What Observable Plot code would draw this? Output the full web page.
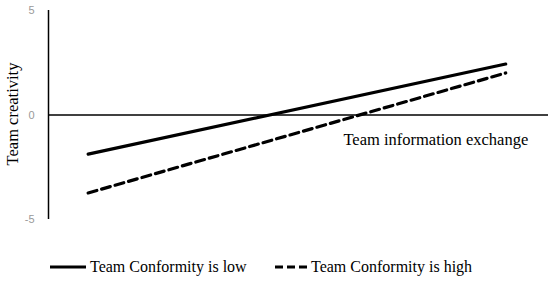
<!DOCTYPE html>
<html>
<head>
<meta charset="utf-8">
<script src="https://cdn.jsdelivr.net/npm/d3@7"></script>
<script src="https://cdn.jsdelivr.net/npm/@observablehq/plot@0.6"></script>
<style>
  body { margin: 0; background: #fff; }
  #chart { width: 550px; height: 283px; position: relative; font-family: "Liberation Serif", "Times New Roman", serif; }
  .legend { position: absolute; top: 258px; left: 0; width: 550px; height: 22px; font-size: 16px; color: #000; }
  .legend .item { position: absolute; top: 0; display: flex; align-items: center; white-space: nowrap; }
  .legend svg { margin-right: 4px; }
</style>
</head>
<body>
<div id="chart"></div>
<script>
const seriesNames = ["Team Conformity is low", "Team Conformity is high"];
const xLevels = [-1, 1];            // low / high team information exchange
const lowConformity = [-1.87, 2.44];
const highConformity = [-3.73, 2.01];
const yTicks = [5, 0, -5];
const yLabel = "Team creativity";
const xLabel = "Team information exchange";

const data = [];
xLevels.forEach((x, i) => {
  data.push({series: seriesNames[0], x, y: lowConformity[i]});
  data.push({series: seriesNames[1], x, y: highConformity[i]});
});

const xDomain = [-1.19, 1.205];
const serif = "Liberation Serif, Times New Roman, serif";

const plot = Plot.plot({
  width: 550,
  height: 232,
  marginTop: 10,
  marginBottom: 13,
  marginLeft: 48,
  marginRight: 2,
  style: {fontFamily: serif, background: "white"},
  x: {domain: xDomain, axis: null},
  y: {domain: [-5, 5], axis: null},
  marks: [
    Plot.axisY(yTicks, {tickSize: 0, tickPadding: 14, fontSize: 11, fill: "#999", label: null,
      tickFormat: d => String(d), fontFamily: "Liberation Sans, Arial, sans-serif"}),
    Plot.ruleX([xDomain[0]], {y1: -5, y2: 5, stroke: "#000", strokeWidth: 1.5}),
    Plot.ruleY([0], {stroke: "#000", strokeWidth: 1.5}),
    Plot.line(data.filter(d => d.series === seriesNames[0]), {x: "x", y: "y", stroke: "#000", strokeWidth: 3.2}),
    Plot.line(data.filter(d => d.series === seriesNames[1]), {x: "x", y: "y", stroke: "#000", strokeWidth: 3.2, strokeDasharray: "9,5"}),
    Plot.text([xLabel], {x: 1.108, y: -1.2, textAnchor: "end", fontSize: 16.5, fill: "#000"}),
    Plot.text([yLabel], {frameAnchor: "left", textAnchor: "middle", dx: -36, dy: -1, rotate: -90, fontSize: 16.5, fill: "#000"})
  ]
});
const chart = document.getElementById("chart");
chart.appendChild(plot);

const legend = document.createElement("div");
legend.className = "legend";
const positions = [50, 275];
const dashes = ["none", "8,4"];
seriesNames.forEach((name, i) => {
  const item = document.createElement("div");
  item.className = "item";
  item.style.left = positions[i] + "px";
  const w = i === 0 ? 36 : 32;
  item.innerHTML = `<svg width="${w}" height="10"><line x1="0" y1="5" x2="${w}" y2="5" stroke="#000" stroke-width="3.2" ${dashes[i] === "none" ? "" : `stroke-dasharray="${dashes[i]}"`}/></svg><span>${name}</span>`;
  legend.appendChild(item);
});
chart.appendChild(legend);
</script>
</body>
</html>
